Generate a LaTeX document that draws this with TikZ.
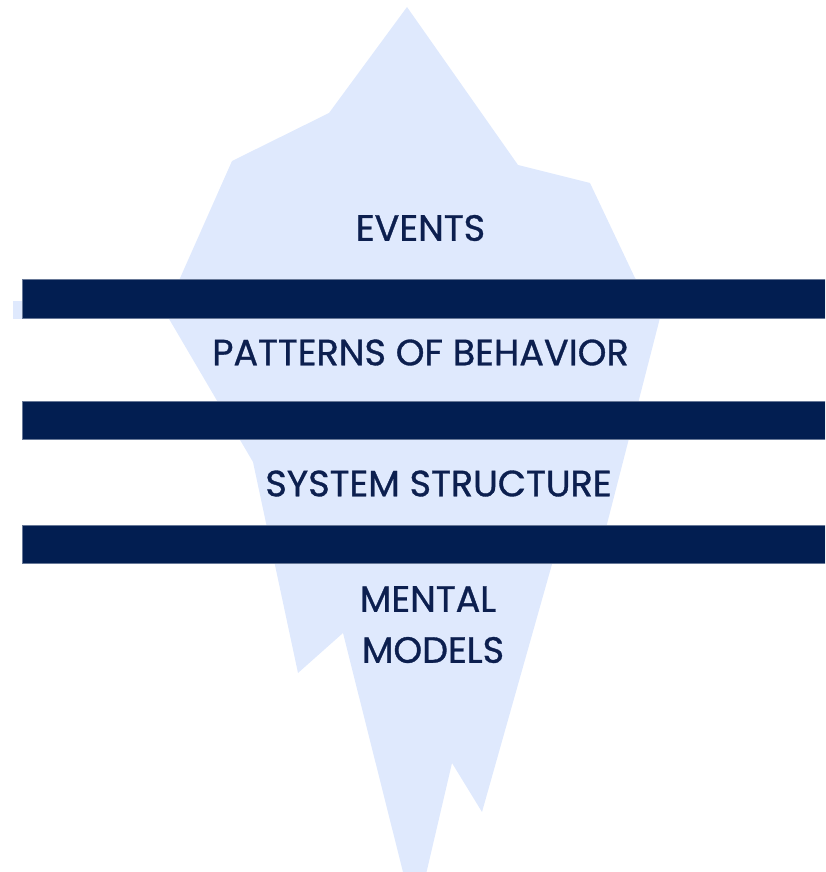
\documentclass[tikz,border=0pt]{standalone}
\usepackage{fontspec}
\setmainfont{Poppins}
\newfontfamily\lblfont{Poppins}[FakeBold=0.9]
\definecolor{ice}{HTML}{DFE9FD}
\definecolor{navy}{HTML}{021E51}
\definecolor{inktext}{HTML}{0C1F4F}
\tikzset{
  bar/.style={fill=navy, draw=navy!60!white, line width=0.6pt},
  label/.style={text=inktext, font=\lblfont\fontsize{36.6}{42}\selectfont, inner sep=0pt, anchor=center}
}
\begin{document}
\begin{tikzpicture}[x=1pt, y=-1pt]
\useasboundingbox (0,0) rectangle (825,872);
\clip (0,0) rectangle (825,872);
% iceberg
\fill[ice] (407,7) -- (518,165) -- (590,183) -- (635,278) -- (662,310) -- (607,524)
  -- (605,535) -- (556,550) -- (482,812) -- (452,763) -- (420,900) -- (410,900)
  -- (343,633) -- (298,673) -- (253,462) -- (165,312) -- (232,161) -- (329,113) -- cycle;
\fill[ice] (13,301) rectangle (30,319);
% bars
\node[bar, minimum width=803pt, minimum height=39pt, inner sep=0pt, anchor=north west] (bar1) at (22,279) {};
\node[bar, minimum width=803pt, minimum height=38pt, inner sep=0pt, anchor=north west] (bar2) at (22,401) {};
\node[bar, minimum width=803pt, minimum height=38pt, inner sep=0pt, anchor=north west] (bar3) at (22,525) {};
% labels
\node[label] (events) at (420.5,228) {EVENTS};
\node[label] (patterns) at (420.5,352.5) {PATTERNS OF BEHAVIOR};
\node[label] (system) at (438.5,483.5) {SYSTEM STRUCTURE};
\node[label] (mental) at (428,599) {MENTAL};
\node[label] (models) at (433,650) {MODELS};
\end{tikzpicture}
\end{document}
